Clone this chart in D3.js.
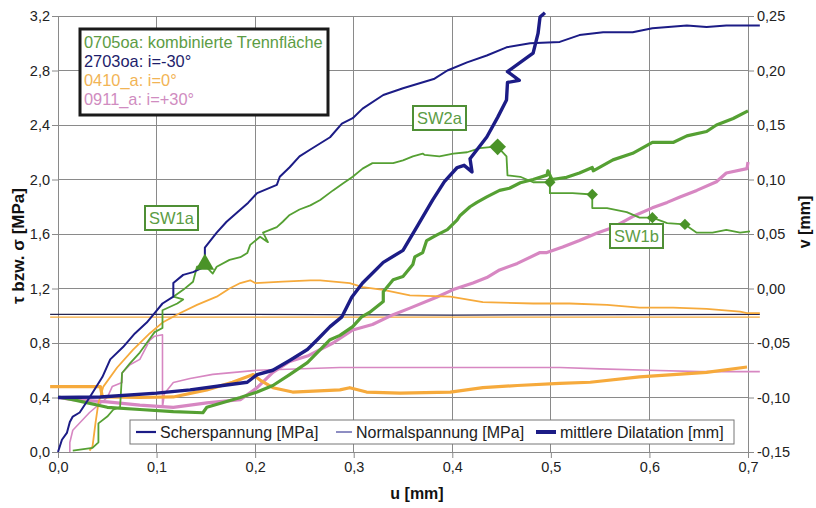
<!DOCTYPE html>
<html>
<head>
<meta charset="utf-8">
<script src="https://cdn.jsdelivr.net/npm/d3@7"></script>
<style>
  body { margin: 0; background: #fff; }
  svg { display: block; font-family: "Liberation Sans", Arial, sans-serif; }
</style>
</head>
<body>
<svg id="chart" width="816" height="508"></svg>
<script>
// ---- axis ticks ----
const uTicks = [0, 0.1, 0.2, 0.3, 0.4, 0.5, 0.6, 0.7];
const tauTicks = [0, 0.4, 0.8, 1.2, 1.6, 2.0, 2.4, 2.8, 3.2];
const vTicks = [-0.15, -0.10, -0.05, 0.00, 0.05, 0.10, 0.15, 0.20, 0.25];

// ---- series: [u (mm), value] ----
// 2703oa: i=-30°
const navyShear = [[0,0],[0.004,0.09],[0.009,0.14],[0.012,0.22],[0.015,0.26],[0.022,0.29],[0.032,0.40],[0.045,0.55],[0.053,0.68],[0.066,0.77],[0.078,0.87],[0.090,0.95],[0.098,1.02],[0.106,1.09],[0.117,1.14],[0.117,1.24],[0.127,1.30],[0.137,1.32],[0.149,1.36],[0.149,1.50],[0.161,1.61],[0.171,1.69],[0.182,1.76],[0.193,1.83],[0.202,1.90],[0.222,1.96],[0.225,2.02],[0.235,2.09],[0.245,2.17],[0.256,2.22],[0.276,2.31],[0.288,2.41],[0.299,2.45],[0.309,2.52],[0.330,2.62],[0.350,2.67],[0.382,2.74],[0.395,2.80],[0.415,2.86],[0.435,2.91],[0.455,2.97],[0.479,3.00],[0.509,3.01],[0.529,3.06],[0.553,3.08],[0.583,3.08],[0.603,3.11],[0.638,3.13],[0.658,3.12],[0.678,3.13],[0.712,3.13]];
const navyNormal = [[-0.008,1.01],[0.2,1.01],[0.4,1.005],[0.712,1.01]];
const navyDil = [[0,-0.100],[0.043,-0.0995],[0.100,-0.096],[0.134,-0.093],[0.167,-0.089],[0.192,-0.086],[0.202,-0.079],[0.218,-0.075],[0.235,-0.066],[0.253,-0.056],[0.263,-0.047],[0.276,-0.035],[0.288,-0.026],[0.298,-0.008],[0.309,0.005],[0.330,0.024],[0.350,0.035],[0.365,0.058],[0.380,0.081],[0.392,0.098],[0.405,0.111],[0.412,0.113],[0.420,0.107],[0.418,0.119],[0.435,0.139],[0.446,0.157],[0.455,0.173],[0.456,0.189],[0.468,0.191],[0.456,0.199],[0.476,0.212],[0.482,0.216],[0.487,0.234],[0.489,0.249],[0.494,0.253]];

// 0705oa: kombinierte Trennfläche
const greenShear = [[0.015,0.01],[0.035,0.03],[0.041,0.07],[0.041,0.21],[0.050,0.26],[0.056,0.31],[0.063,0.33],[0.065,0.58],[0.073,0.65],[0.083,0.73],[0.090,0.80],[0.098,0.88],[0.106,0.91],[0.106,1.04],[0.121,1.09],[0.127,1.12],[0.117,1.14],[0.127,1.19],[0.137,1.25],[0.141,1.36],[0.149,1.37],[0.157,1.31],[0.161,1.36],[0.174,1.41],[0.185,1.43],[0.192,1.46],[0.195,1.52],[0.205,1.58],[0.213,1.54],[0.208,1.61],[0.222,1.65],[0.228,1.69],[0.235,1.74],[0.245,1.78],[0.256,1.81],[0.266,1.85],[0.279,1.92],[0.289,1.97],[0.299,2.02],[0.309,2.08],[0.319,2.12],[0.330,2.12],[0.340,2.12],[0.350,2.14],[0.360,2.17],[0.370,2.19],[0.372,2.18],[0.387,2.17],[0.401,2.19],[0.415,2.20],[0.428,2.23],[0.441,2.24],[0.446,2.24],[0.455,2.17],[0.456,2.03],[0.469,2.02],[0.482,1.98],[0.499,1.98],[0.499,1.90],[0.522,1.90],[0.542,1.89],[0.542,1.79],[0.557,1.79],[0.577,1.76],[0.590,1.72],[0.603,1.72],[0.618,1.68],[0.636,1.67],[0.648,1.61],[0.664,1.61],[0.678,1.63],[0.692,1.61],[0.702,1.62]];
const greenDil = [[0,-0.0995],[0.015,-0.102],[0.050,-0.109],[0.083,-0.111],[0.117,-0.113],[0.147,-0.114],[0.151,-0.109],[0.185,-0.100],[0.202,-0.095],[0.218,-0.089],[0.235,-0.079],[0.253,-0.068],[0.266,-0.056],[0.276,-0.047],[0.286,-0.043],[0.299,-0.035],[0.308,-0.026],[0.316,-0.022],[0.330,-0.012],[0.330,-0.003],[0.340,0.008],[0.350,0.011],[0.360,0.022],[0.362,0.029],[0.370,0.033],[0.374,0.044],[0.384,0.049],[0.395,0.054],[0.405,0.063],[0.408,0.067],[0.418,0.075],[0.425,0.079],[0.435,0.084],[0.448,0.090],[0.458,0.092],[0.469,0.097],[0.482,0.100],[0.496,0.104],[0.497,0.108],[0.501,0.100],[0.516,0.102],[0.529,0.106],[0.542,0.111],[0.543,0.108],[0.563,0.118],[0.583,0.124],[0.603,0.134],[0.624,0.134],[0.638,0.140],[0.658,0.144],[0.668,0.150],[0.685,0.156],[0.700,0.163]];

// 0410_a: i=0°
const orangeShear = [[0.032,0.01],[0.035,0.04],[0.038,0.21],[0.041,0.36],[0.046,0.48],[0.060,0.62],[0.076,0.75],[0.093,0.87],[0.106,0.95],[0.124,1.02],[0.141,1.08],[0.161,1.14],[0.174,1.20],[0.185,1.24],[0.195,1.26],[0.200,1.24],[0.228,1.25],[0.256,1.26],[0.266,1.26],[0.296,1.24],[0.309,1.21],[0.330,1.19],[0.357,1.15],[0.398,1.14],[0.431,1.10],[0.482,1.09],[0.519,1.09],[0.557,1.08],[0.590,1.06],[0.624,1.06],[0.658,1.05],[0.692,1.03],[0.699,1.02],[0.712,1.02]];
const orangeNormal = [[-0.008,0.99],[0.3,0.99],[0.712,0.99]];
const orangeDil = [[-0.008,-0.090],[0.043,-0.090],[0.045,-0.0995],[0.083,-0.100],[0.117,-0.0995],[0.151,-0.093],[0.177,-0.086],[0.198,-0.079],[0.205,-0.084],[0.218,-0.091],[0.238,-0.095],[0.286,-0.093],[0.296,-0.091],[0.313,-0.095],[0.347,-0.096],[0.398,-0.095],[0.431,-0.091],[0.466,-0.089],[0.509,-0.087],[0.540,-0.086],[0.590,-0.081],[0.624,-0.079],[0.658,-0.077],[0.699,-0.072]];

// 0911_a: i=+30°
const pinkShear = [[0.012,0.0],[0.012,0.07],[0.015,0.16],[0.032,0.29],[0.050,0.40],[0.055,0.48],[0.065,0.51],[0.065,0.58],[0.073,0.64],[0.083,0.68],[0.093,0.82],[0.098,0.85],[0.106,0.86],[0.106,0.33],[0.108,0.43],[0.117,0.51],[0.134,0.54],[0.157,0.57],[0.202,0.60],[0.286,0.62],[0.398,0.62],[0.509,0.62],[0.550,0.61],[0.600,0.60],[0.651,0.59],[0.712,0.59]];
const pinkDil = [[0,-0.100],[0.015,-0.102],[0.050,-0.104],[0.083,-0.107],[0.117,-0.109],[0.151,-0.105],[0.185,-0.102],[0.202,-0.091],[0.218,-0.077],[0.235,-0.067],[0.253,-0.062],[0.279,-0.050],[0.299,-0.038],[0.319,-0.033],[0.340,-0.024],[0.357,-0.018],[0.384,-0.008],[0.401,-0.001],[0.421,0.005],[0.435,0.010],[0.448,0.017],[0.466,0.023],[0.489,0.033],[0.496,0.033],[0.512,0.038],[0.529,0.044],[0.547,0.051],[0.563,0.056],[0.583,0.066],[0.603,0.074],[0.618,0.079],[0.631,0.084],[0.648,0.090],[0.668,0.098],[0.678,0.106],[0.699,0.110],[0.700,0.116]];

// shear-zone markers on the 0705oa shear curve
const sw1aMarker = [[0.149, 1.37]];
const sw2aMarker = [[0.446, 2.24]];
const sw1bMarkers = [[0.499,1.98],[0.542,1.89],[0.603,1.72],[0.636,1.67]];

const testLabels = ["0705oa: kombinierte Trennfläche", "2703oa: i=-30°", "0410_a: i=0°", "0911_a: i=+30°"];
const seriesLabels = ["Scherspannung [MPa]", "Normalspannung [MPa]", "mittlere Dilatation [mm]"];

// ---- colours ----
const C = {
  navy: "#1c1c86",
  green: "#55a033",
  orange: "#f6aa3c",
  pink: "#d787c2",
  grid: "#8a8a8a"
};
const legendColors = ["#5c9c44", "#1d1d6b", "#f2b455", "#d08cc0"];

// ---- layout ----
const svg = d3.select("#chart");
const x = d3.scaleLinear().domain([0, 0.7]).range([58, 748]);
const yL = d3.scaleLinear().domain([0, 3.2]).range([452, 16]);
const yR = d3.scaleLinear().domain([-0.15, 0.25]).range([452, 16]);

const loc = d3.formatLocale({decimal: ",", thousands: ".", grouping: [3], currency: ["", ""], minus: "-"});
const f1 = loc.format(".1f");
const f2 = loc.format(".2f");

// grid
const grid = svg.append("g");
grid.selectAll("line.h").data(tauTicks).join("line")
  .attr("x1", x(0)).attr("x2", x(0.7))
  .attr("y1", d => yL(d)).attr("y2", d => yL(d))
  .attr("stroke", C.grid).attr("stroke-width", 1).attr("shape-rendering", "crispEdges");
grid.selectAll("line.v").data(uTicks).join("line")
  .attr("x1", d => x(d)).attr("x2", d => x(d))
  .attr("y1", yL(0)).attr("y2", yL(3.2))
  .attr("stroke", C.grid).attr("stroke-width", 1).attr("shape-rendering", "crispEdges");

// axes
function styleAxis(g) {
  g.select(".domain").attr("stroke", C.grid);
  g.selectAll(".tick line").attr("stroke", C.grid);
  g.selectAll(".tick text").attr("fill", "#222").attr("font-size", 14.5)
    .attr("font-family", "'Liberation Sans', Arial, sans-serif");
}
svg.append("g").attr("transform", `translate(${x(0)},0)`)
  .call(d3.axisLeft(yL).tickValues(tauTicks).tickFormat(f1).tickSize(6).tickSizeOuter(0).tickPadding(2))
  .call(styleAxis);
svg.append("g").attr("transform", `translate(${x(0.7)},0)`)
  .call(d3.axisRight(yR).tickValues(vTicks).tickFormat(f2).tickSize(6).tickSizeOuter(0).tickPadding(3))
  .call(styleAxis);
svg.append("g").attr("transform", `translate(0,${yL(0)})`)
  .call(d3.axisBottom(x).tickValues(uTicks).tickFormat(f1).tickSize(6).tickSizeOuter(0).tickPadding(4))
  .call(styleAxis);

// axis titles
svg.append("text").attr("transform", `translate(24,246) rotate(-90)`)
  .attr("text-anchor", "middle").attr("font-weight", "bold").attr("font-size", 17).attr("fill", "#111")
  .text("τ bzw. σ [MPa]");
svg.append("text").attr("transform", `translate(810,222) rotate(-90)`)
  .attr("text-anchor", "middle").attr("font-weight", "bold").attr("font-size", 16).attr("fill", "#111")
  .text("v [mm]");
svg.append("text").attr("x", 417).attr("y", 499)
  .attr("text-anchor", "middle").attr("font-weight", "bold").attr("font-size", 16).attr("fill", "#111")
  .text("u [mm]");

// curves
const lineL = d3.line().x(d => x(d[0])).y(d => yL(d[1]));
const lineR = d3.line().x(d => x(d[0])).y(d => yR(d[1]));
const curves = [
  {d: orangeNormal, g: lineL, c: C.orange, w: 1.3},
  {d: navyNormal, g: lineL, c: "#262650", w: 1.3},
  {d: pinkShear, g: lineL, c: C.pink, w: 1.6},
  {d: pinkDil, g: lineR, c: C.pink, w: 3.2},
  {d: orangeShear, g: lineL, c: C.orange, w: 1.8},
  {d: orangeDil, g: lineR, c: C.orange, w: 3.2},
  {d: greenDil, g: lineR, c: C.green, w: 3.2},
  {d: greenShear, g: lineL, c: C.green, w: 1.8},
  {d: navyShear, g: lineL, c: C.navy, w: 2},
  {d: navyDil, g: lineR, c: C.navy, w: 3.4}
];
svg.append("g").selectAll("path").data(curves).join("path")
  .attr("d", s => s.g(s.d))
  .attr("fill", "none").attr("stroke", s => s.c).attr("stroke-width", s => s.w)
  .attr("stroke-linejoin", "round");

// markers
const mk = svg.append("g").attr("fill", "#4a9328");
mk.selectAll("path.tri").data(sw1aMarker).join("path")
  .attr("transform", d => `translate(${x(d[0])},${yL(d[1]) - 1})`)
  .attr("d", d3.symbol(d3.symbolTriangle, 150));
mk.selectAll("path.big").data(sw2aMarker).join("path")
  .attr("transform", d => `translate(${x(d[0])},${yL(d[1])}) rotate(45)`)
  .attr("d", d3.symbol(d3.symbolSquare, 140));
mk.selectAll("path.small").data(sw1bMarkers).join("path")
  .attr("transform", d => `translate(${x(d[0])},${yL(d[1])}) rotate(45)`)
  .attr("d", d3.symbol(d3.symbolSquare, 64));

// zone labels
const zoneLabels = [
  {t: "SW1a", x0: 145, y0: 206},
  {t: "SW2a", x0: 413, y0: 106},
  {t: "SW1b", x0: 610, y0: 224}
];
const zl = svg.append("g").selectAll("g").data(zoneLabels).join("g")
  .attr("transform", d => `translate(${d.x0},${d.y0})`);
zl.append("rect").attr("width", 53).attr("height", 24).attr("fill", "#fff")
  .attr("stroke", "#4f8f35").attr("stroke-width", 2);
zl.append("text").attr("x", 26.5).attr("y", 18).attr("text-anchor", "middle")
  .attr("font-size", 16.5).attr("fill", "#5c9c44").text(d => d.t);

// test legend (top left)
const lg = svg.append("g").attr("transform", "translate(80,29)");
lg.append("rect").attr("width", 248).attr("height", 86).attr("fill", "#fff")
  .attr("stroke", "#1a1a1a").attr("stroke-width", 3);
lg.selectAll("text").data(testLabels).join("text")
  .attr("x", 4).attr("y", (d, i) => 19 + i * 19)
  .attr("font-size", 16.4).attr("fill", (d, i) => legendColors[i]).text(d => d);

// series legend (bottom)
const bl = svg.append("g").attr("transform", "translate(130,420)");
bl.append("rect").attr("width", 604).attr("height", 24).attr("fill", "#fff")
  .attr("stroke", "#777").attr("stroke-width", 1);
const items = [
  {t: seriesLabels[0], x0: 6, len: 20, w: 2.2},
  {t: seriesLabels[1], x0: 206, len: 16, w: 1},
  {t: seriesLabels[2], x0: 406, len: 20, w: 4}
];
const bi = bl.selectAll("g").data(items).join("g").attr("transform", d => `translate(${d.x0},12)`);
bi.append("line").attr("x1", 0).attr("x2", d => d.len).attr("y1", 0).attr("y2", 0)
  .attr("stroke", C.navy).attr("stroke-width", d => d.w);
bi.append("text").attr("x", d => d.len + 4).attr("y", 6).attr("font-size", 16).attr("fill", "#222")
  .text(d => d.t);
</script>
</body>
</html>
